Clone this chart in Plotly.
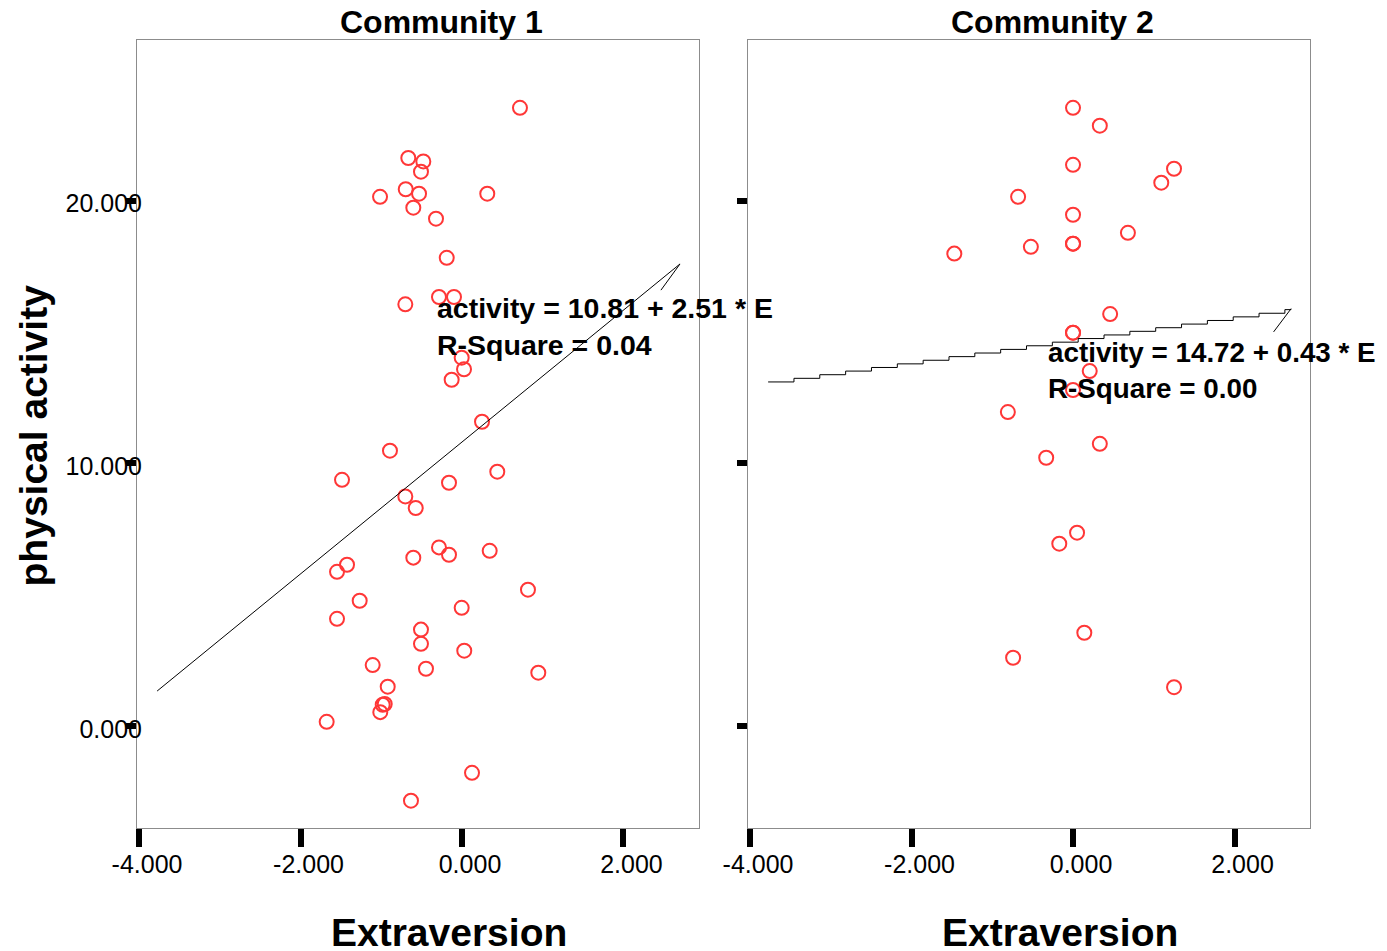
import numpy as np
import plotly.graph_objects as go

# ---------------- data ----------------
panel_titles = ["Community 1", "Community 2"]

x_c1 = [0.718, -0.665, -0.479, -0.508, -1.015, -0.697, -0.532, 0.313, -0.603, -0.322,
        -0.189, -0.702, -0.285, -0.099, -0.004, 0.025, -0.128, 0.248, -0.892, -1.486,
        0.437, -0.161, -0.702, -0.573, -0.285, -0.161, 0.343, -0.603, -1.424, -1.548,
        -1.267, 0.817, -0.004, -1.548, -0.508, -0.508, 0.028, -1.106, -0.446, 0.945,
        -0.920, -0.957, -0.982, -1.012, -1.676, 0.124, -0.632]
y_c1 = [23.53, 21.62, 21.49, 21.10, 20.14, 20.43, 20.26, 20.26, 19.73, 19.31,
        17.82, 16.05, 16.33, 16.33, 14.02, 13.58, 13.18, 11.58, 10.48, 9.37,
        9.68, 9.26, 8.74, 8.30, 6.80, 6.52, 6.67, 6.41, 6.14, 5.87,
        4.77, 5.19, 4.50, 4.08, 3.67, 3.13, 2.87, 2.32, 2.18, 2.03,
        1.50, 0.84, 0.81, 0.53, 0.16, -1.78, -2.84]

x_c2 = [0.0, 0.332, 0.0, 1.251, 1.093, -0.680, 0.0, 0.680, -0.522, 0.0,
        0.0, -1.470, 0.460, 0.0, 0.0, 0.207, 0.0, -0.807, 0.332, -0.332,
        0.050, -0.170, 0.140, -0.742, 1.251]
y_c2 = [23.53, 22.85, 21.36, 21.21, 20.68, 20.14, 19.46, 18.77, 18.24, 18.36,
        18.36, 17.98, 15.68, 14.97, 14.97, 13.51, 12.79, 11.95, 10.74, 10.21,
        7.36, 6.94, 3.55, 2.60, 1.48]

# regression fits: intercept, slope, R-square
fit_c1 = (10.81, 2.51, 0.04)
fit_c2 = (14.72, 0.43, 0.00)
fit_x_range = (-3.776, 2.70)
hook_c1 = (2.464, 16.59)
hook_c2 = (2.484, 15.00)

x_tick_vals = [-4, -2, 0, 2]
x_tick_text = ["-4.000", "-2.000", "0.000", "2.000"]
y_tick_vals = [0, 10, 20]
y_tick_text = ["0.000", "10.000", "20.000"]

x_title = "Extraversion"
y_title = "physical activity"

# ---------------- figure ----------------
FONT = "Liberation Sans, Arial, sans-serif"
RED = "rgb(255,55,55)"

fig = go.Figure()

def add_panel(xs, ys, fit, hook, xa, ya, stepped):
    fig.add_trace(go.Scatter(
        x=xs, y=ys, mode="markers", xaxis=xa, yaxis=ya,
        marker=dict(symbol="circle-open", size=14, color=RED, line=dict(width=2, color=RED)),
        showlegend=False, hoverinfo="skip"))
    a, b, _ = fit
    if stepped:
        lx = list(np.arange(fit_x_range[0], fit_x_range[1], 0.32)) + [fit_x_range[1]]
        shape = "hv"
    else:
        lx = [fit_x_range[0], fit_x_range[1]]
        shape = "linear"
    ly = [a + b * v for v in lx]
    fig.add_trace(go.Scatter(x=lx, y=ly, mode="lines", xaxis=xa, yaxis=ya,
                             line=dict(color="black", width=1, shape=shape),
                             showlegend=False, hoverinfo="skip"))
    fig.add_trace(go.Scatter(x=[lx[-1], hook[0]], y=[ly[-1], hook[1]], mode="lines",
                             xaxis=xa, yaxis=ya, line=dict(color="black", width=1),
                             showlegend=False, hoverinfo="skip"))

add_panel(x_c1, y_c1, fit_c1, hook_c1, "x", "y", False)
add_panel(x_c2, y_c2, fit_c2, hook_c2, "x2", "y2", True)

xr = [-4.025, 2.935]
yr = [-3.88, 26.11]
axis_common = dict(showgrid=False, zeroline=False, showline=True, linecolor="#8c8c8c",
                   linewidth=1, mirror=True, ticks="outside", tickcolor="black",
                   tickfont=dict(family=FONT, size=25, color="black"))

fig.update_layout(
    width=1387, height=943,
    margin=dict(l=129, r=85, t=32, b=123),
    plot_bgcolor="white", paper_bgcolor="white",
    xaxis=dict(domain=[0, 0.4791], range=xr, tickvals=x_tick_vals, ticktext=x_tick_text,
               ticklen=18, tickwidth=6, ticklabelshift=8, ticklabelstandoff=-4,
               anchor="y", **axis_common),
    xaxis2=dict(domain=[0.5209, 1], range=xr, tickvals=x_tick_vals, ticktext=x_tick_text,
                ticklen=18, tickwidth=6, ticklabelshift=8, ticklabelstandoff=-4,
                anchor="y2", **axis_common),
    yaxis=dict(domain=[0, 1], range=yr, tickvals=y_tick_vals, ticktext=y_tick_text,
               ticklen=10, tickwidth=6, ticklabelstandoff=-21, ticklabelshift=3,
               anchor="x", **axis_common),
    yaxis2=dict(domain=[0, 1], range=yr, tickvals=y_tick_vals, ticktext=y_tick_text,
                ticklen=10, tickwidth=6, showticklabels=False, anchor="x2", **axis_common),
)

bold = lambda s: "<b>" + s + "</b>"
ann = []
# panel titles
for t, px in zip(panel_titles, [0.2592, 0.7809]):
    ann.append(dict(text=bold(t), x=px, y=1.0228, xref="paper", yref="paper",
                    xanchor="center", yanchor="middle", showarrow=False,
                    font=dict(family=FONT, size=32, color="black")))
# x titles
for px in [0.266, 0.787]:
    ann.append(dict(text=bold(x_title), x=px, y=-0.1320, xref="paper", yref="paper",
                    xanchor="center", yanchor="middle", showarrow=False,
                    font=dict(family=FONT, size=39, color="black")))
# y title
ann.append(dict(text=bold(y_title), x=-0.0883, y=0.4987, xref="paper", yref="paper",
                xanchor="center", yanchor="middle", textangle=-90, showarrow=False,
                font=dict(family=FONT, size=39, color="black")))
# fit equations
for fit, xa, ya, pos, fs in [(fit_c1, "x", "y", (-0.335, 15.19), 28.5),
                             (fit_c2, "x2", "y2", (-0.34, 13.55), 27.8)]:
    a, b, r2 = fit
    txt = f"activity = {a:.2f} + {b:.2f} * E<br>R-Square = {r2:.2f}"
    ann.append(dict(text=bold(txt), x=pos[0], y=pos[1], xref=xa, yref=ya,
                    xanchor="left", yanchor="middle", align="left", showarrow=False,
                    font=dict(family=FONT, size=fs, color="black")))
fig.update_layout(annotations=ann)

fig.write_html("out.html")
